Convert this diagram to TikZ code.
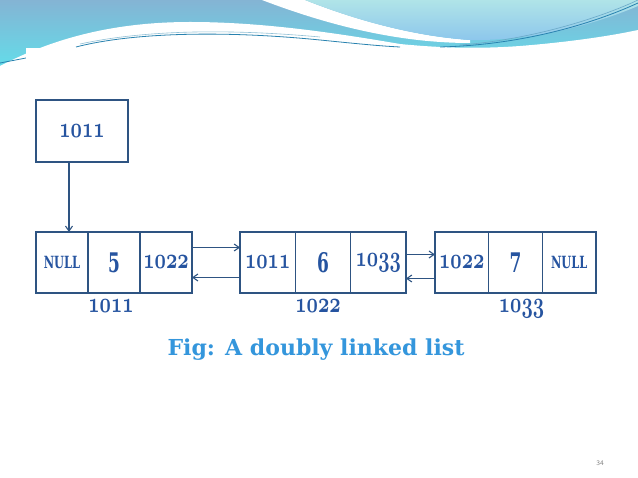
\documentclass[tikz,border=0pt]{standalone}
\usepackage{graphicx}
\usepackage{fontspec}
\newfontfamily\heavyfont{DejaVu Serif}
\usetikzlibrary{positioning,arrows.meta}
\definecolor{boxline}{RGB}{46,84,130}
\definecolor{txtblue}{RGB}{38,84,160}
\definecolor{titleblue}{RGB}{52,150,220}
\definecolor{wavetop}{RGB}{132,180,212}
\definecolor{wavebot}{RGB}{98,222,234}
\definecolor{lighttop}{RGB}{176,228,232}
\definecolor{lightbot}{RGB}{140,198,236}
\definecolor{teal}{RGB}{40,130,175}
% address in bold old style figures
\newcommand{\adr}[1]{\scalebox{0.95}[1.4]{\usefont{OML}{cmm}{b}{it}#1}}
\newcommand{\nul}{\scalebox{0.95}[1.4]{\heavyfont\bfseries\fontsize{12}{12}\selectfont NULL}}
\newcommand{\val}[1]{\scalebox{0.85}[1.35]{\heavyfont\bfseries\fontsize{20}{20}\selectfont #1}}
\begin{document}
\begin{tikzpicture}[x=1pt,y=-1pt,
    cell/.style={draw=boxline, line width=1.3pt, outer sep=0pt, inner sep=0pt,
        minimum width=#1, minimum height=61pt, text=txtblue,
        font=\bfseries\fontsize{20}{20}\selectfont},
    cell/.default=53pt,
    addr/.style={text=txtblue, inner sep=0pt, font=\bfseries\fontsize{20}{20}\selectfont},
    link/.style={draw=boxline, line width=1.1pt, -{Straight Barb[length=5pt,width=7pt]}}]
    \useasboundingbox (0,0) rectangle (638,478);
    \fill[white] (0,0) rectangle (638,478);
    % header waves
    \shade[top color=wavetop, bottom color=wavebot] (0,0) rectangle (638,70);
    \fill[white] (262,0) .. controls (330,26) and (400,43) .. (470,43) -- (470,40)
        .. controls (410,36) and (350,18) .. (305,0) -- cycle;
    \shade[top color=lighttop, bottom color=lightbot] (305,0) .. controls (350,18) and (410,36) .. (470,40)
        .. controls (540,41) and (600,22) .. (638,6) -- (638,0) -- cycle;
    \fill[white] (0,70) -- (0,66) .. controls (50,40) and (110,22) .. (190,22)
        .. controls (260,22) and (330,32) .. (400,44) .. controls (440,48) and (480,49) .. (520,46)
        .. controls (570,42) and (610,36) .. (638,30) -- (638,70) -- cycle;
    \draw[teal, line width=0.8pt] (76,47) .. controls (130,33) and (220,30) .. (320,40)
        .. controls (360,44) and (380,46) .. (400,47);
    \draw[teal!50, line width=0.6pt] (80,44) .. controls (140,31) and (220,28) .. (320,37);
    \draw[teal, line width=0.8pt] (0,63) -- (26,58);
    \draw[teal, line width=0.8pt] (440,47) .. controls (520,45) and (590,25) .. (638,3);
    \draw[teal!70, line width=0.6pt] (460,45) .. controls (530,40) and (600,18) .. (638,0);
    \fill[white] (26,48) rectangle (606,470);
    % pointer to the first node
    \node[draw=boxline, line width=1.3pt, outer sep=0pt, minimum width=92pt, minimum height=62pt,
        text=txtblue, font=\bfseries\fontsize{20}{20}\selectfont] (head) at (82,131) {\adr{1011}};
    % the three nodes
    \node[cell=52pt] (n1a) at (62,262.5) {\nul};
    \node[cell=52pt, right=0pt of n1a] (n1b) {\val{5}};
    \node[cell=52pt, right=0pt of n1b] (n1c) {\adr{1022}};
    \node[cell=55.3pt] (n2a) at (267.7,262.5) {\adr{1011}};
    \node[cell=55.3pt, right=0pt of n2a] (n2b) {\val{6}};
    \node[cell=55.3pt, right=0pt of n2b] (n2c) {\adr{1033}};
    \node[cell=53.7pt] (n3a) at (461.8,262.5) {\adr{1022}};
    \node[cell=53.7pt, right=0pt of n3a] (n3b) {\val{7}};
    \node[cell=53.7pt, right=0pt of n3b] (n3c) {\nul};
    \node[addr, below=6pt of n1b, xshift=-3pt] (l1) {\adr{1011}};
    \node[addr, below=6pt of n2b, xshift=-5pt] (l2) {\adr{1022}};
    \node[addr, below=6pt of n3b, xshift=6pt] (l3) {\adr{1033}};
    \draw[link] ([xshift=-13pt]head.south) -- ([xshift=7pt]n1a.north);
    \draw[link] ([yshift=15pt]n1c.east) -- ([yshift=15pt]n2a.west);
    \draw[link] ([yshift=-15pt]n2a.west) -- ([yshift=-15pt]n1c.east);
    \draw[link] ([yshift=8pt]n2c.east) -- ([yshift=8pt]n3a.west);
    \draw[link] ([yshift=-16pt]n3a.west) -- ([yshift=-16pt]n2c.east);
    \node[text=titleblue, font=\heavyfont\bfseries\fontsize{22}{22}\selectfont] (title) at (316,350) {Fig: A doubly linked list};
    \node[text=gray, font=\sffamily\fontsize{7}{7}\selectfont] (pg) at (600,463) {34};
\end{tikzpicture}
\end{document}
